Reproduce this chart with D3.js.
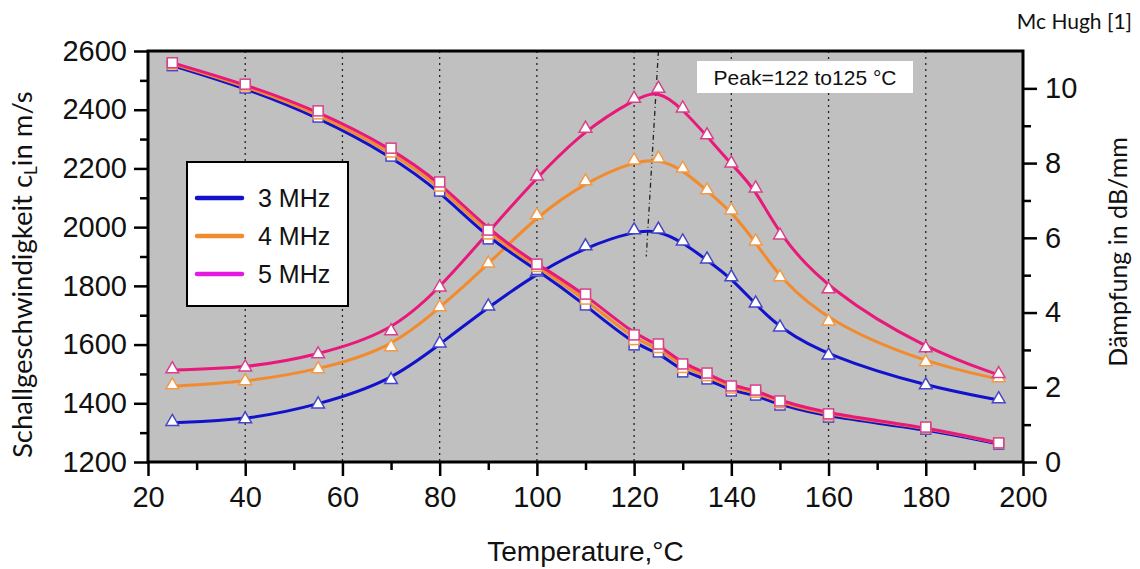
<!DOCTYPE html>
<html>
<head>
<meta charset="utf-8">
<title>Schallgeschwindigkeit und Dämpfung</title>
<script src="https://cdnjs.cloudflare.com/ajax/libs/d3/7.8.5/d3.min.js"></script>
<style>
  body { margin: 0; background: #fff; overflow: hidden; }
  svg { display: block; overflow: visible; }
</style>
</head>
<body>
<div id="chart"></div>
<script>
// data
var temps  = [25, 40, 55, 70, 80, 90, 100, 110, 120, 125, 130, 135, 140, 145, 150, 160, 180, 195];
var speed3 = [2550, 2474, 2375, 2242, 2123, 1960, 1856, 1735, 1599, 1575, 1507, 1483, 1442, 1428, 1394, 1353, 1312, 1261];
var speed4 = [2556, 2481, 2386, 2256, 2140, 1977, 1866, 1755, 1617, 1590, 1522, 1494, 1452, 1438, 1402, 1360, 1317, 1264];
var speed5 = [2560, 2487, 2396, 2269, 2154, 1990, 1874, 1772, 1633, 1602, 1534, 1503, 1459, 1445, 1408, 1364, 1319, 1265];
var damp3  = [1.05, 1.12, 1.52, 2.17, 3.15, 4.14, 5.05, 5.75, 6.18, 6.20, 5.88, 5.40, 4.92, 4.22, 3.58, 2.83, 2.03, 1.66];
var damp4  = [2.03, 2.14, 2.46, 3.05, 4.12, 5.29, 6.58, 7.49, 8.05, 8.10, 7.83, 7.25, 6.71, 5.88, 4.92, 3.74, 2.65, 2.22];
var damp5  = [2.46, 2.51, 2.86, 3.48, 4.65, 6.15, 7.62, 8.90, 9.70, 9.97, 9.44, 8.72, 7.97, 7.30, 6.04, 4.60, 3.02, 2.33];
var seriesNames = ["3 MHz", "4 MHz", "5 MHz"];
var xTicks = [20, 40, 60, 80, 100, 120, 140, 160, 180, 200];
var xMinor = [30, 50, 70, 90, 110, 130, 150, 170, 190];
var gridTemps = [40, 60, 80, 100, 120, 140, 160, 180];
var yLeftTicks = [1200, 1400, 1600, 1800, 2000, 2200, 2400, 2600];
var yLeftMinor = [1300, 1500, 1700, 1900, 2100, 2300, 2500];
var yRightTicks = [0, 2, 4, 6, 8, 10];
var yRightMinor = [1, 3, 5, 7, 9];
var peakLine = [{t: 125, d: 11}, {t: 122.5, d: 5.5}];

var lineColors   = ["#1212cc", "#f28a2e", "#e8197a"];
var legendColors = ["#1212cc", "#f28a2e", "#e619e0"];
var markColors   = ["#4646c8", "#f09a4a", "#d8408c"];
var fontArial = "Liberation Sans, Arial, sans-serif";

var width = 1140, height = 569;
var margin = { left: 148, top: 51, right: 117, bottom: 107 };
var innerWidth  = width - margin.left - margin.right;
var innerHeight = height - margin.top - margin.bottom;

var x = d3.scaleLinear().domain([20, 200]).range([0, innerWidth]);
var yL = d3.scaleLinear().domain([1200, 2600]).range([innerHeight, 0]);
var yR = d3.scaleLinear().domain([0, 11]).range([innerHeight, 0]);

var svg = d3.select("#chart").append("svg")
    .attr("width", width)
    .attr("height", height);

var g = svg.append("g")
    .attr("transform", "translate(" + margin.left + "," + margin.top + ")");

g.append("rect")
    .attr("width", innerWidth)
    .attr("height", innerHeight)
    .attr("fill", "#c0c0c0");

// dotted grid
g.selectAll(".grid")
    .data(gridTemps)
  .enter().append("line")
    .attr("x1", function(d){ return x(d); })
    .attr("x2", function(d){ return x(d); })
    .attr("y1", 0)
    .attr("y2", innerHeight)
    .attr("stroke", "#222")
    .attr("stroke-width", 1.3)
    .attr("stroke-dasharray", "2,4");

g.append("line")
    .attr("x1", x(peakLine[0].t)).attr("y1", yR(peakLine[0].d))
    .attr("x2", x(peakLine[1].t)).attr("y2", yR(peakLine[1].d))
    .attr("stroke", "#222")
    .attr("stroke-width", 1.3)
    .attr("stroke-dasharray", "5,3,1,3");

function pts(vals) {
  return temps.map(function(t, i){ return { t: t, v: vals[i] }; });
}

var speeds = [speed3, speed4, speed5];
var damps = [damp3, damp4, damp5];

var lineL = d3.line().curve(d3.curveBasis)
    .x(function(d){ return x(d.t); })
    .y(function(d){ return yL(d.v); });
var lineR = d3.line().curve(d3.curveBasis)
    .x(function(d){ return x(d.t); })
    .y(function(d){ return yR(d.v); });

var tri = d3.symbol().type(d3.symbolTriangle).size(70);

damps.forEach(function(vals, i) {
  g.append("path")
      .attr("d", lineR(pts(vals)))
      .attr("fill", "none")
      .attr("stroke", lineColors[i])
      .attr("stroke-width", 3);
});
speeds.forEach(function(vals, i) {
  g.append("path")
      .attr("d", lineL(pts(vals)))
      .attr("fill", "none")
      .attr("stroke", lineColors[i])
      .attr("stroke-width", 3);
});

damps.forEach(function(vals, i) {
  g.selectAll(".tri" + i)
      .data(pts(vals))
    .enter().append("path")
      .attr("d", tri)
      .attr("transform", function(d){ return "translate(" + x(d.t) + "," + (yR(d.v) - 1) + ")"; })
      .attr("fill", "#fff")
      .attr("stroke", markColors[i])
      .attr("stroke-width", 1.5);
});
speeds.forEach(function(vals, i) {
  g.selectAll(".sq" + i)
      .data(pts(vals))
    .enter().append("rect")
      .attr("x", function(d){ return x(d.t) - 5; })
      .attr("y", function(d){ return yL(d.v) - 5; })
      .attr("width", 10)
      .attr("height", 10)
      .attr("fill", "#fff")
      .attr("stroke", markColors[i])
      .attr("stroke-width", 1.5);
});

// axes
function styleAxis(sel) {
  sel.attr("font-family", fontArial).attr("font-size", 29);
  sel.select(".domain").remove();
  sel.selectAll(".tick line").attr("stroke", "#000").attr("stroke-width", 2.5);
  sel.selectAll(".tick text")
      .attr("fill", "#111")
      .attr("font-family", fontArial)
      .attr("font-size", 29);
}
function minorAxis(sel) {
  styleAxis(sel);
  sel.selectAll(".tick text").remove();
}

g.append("g")
    .attr("transform", "translate(0," + innerHeight + ")")
    .call(d3.axisBottom(x).tickValues(xMinor).tickSize(8))
    .call(minorAxis);
g.append("g")
    .attr("transform", "translate(0," + innerHeight + ")")
    .call(d3.axisBottom(x).tickValues(xTicks).tickSize(14).tickPadding(10))
    .call(styleAxis);

g.append("g")
    .call(d3.axisLeft(yL).tickValues(yLeftMinor).tickSize(8))
    .call(minorAxis);
g.append("g")
    .call(d3.axisLeft(yL).tickValues(yLeftTicks).tickSize(14).tickPadding(7).tickFormat(d3.format("d")))
    .call(styleAxis);

g.append("g")
    .attr("transform", "translate(" + innerWidth + ",0)")
    .call(d3.axisRight(yR).tickValues(yRightMinor).tickSize(8))
    .call(minorAxis);
g.append("g")
    .attr("transform", "translate(" + innerWidth + ",0)")
    .call(d3.axisRight(yR).tickValues(yRightTicks).tickSize(14).tickPadding(8))
    .call(styleAxis);

g.append("rect")
    .attr("width", innerWidth)
    .attr("height", innerHeight)
    .attr("fill", "none")
    .attr("stroke", "#000")
    .attr("stroke-width", 3);

// legend
var legend = g.append("g").attr("transform", "translate(39,111)");
legend.append("rect")
    .attr("width", 161)
    .attr("height", 144)
    .attr("fill", "#fff")
    .attr("stroke", "#000")
    .attr("stroke-width", 2);
seriesNames.forEach(function(name, i) {
  var ly = 36 + i * 38;
  legend.append("line")
      .attr("x1", 10).attr("x2", 55)
      .attr("y1", ly).attr("y2", ly)
      .attr("stroke", legendColors[i])
      .attr("stroke-width", 4.5)
      .attr("stroke-linecap", "round");
  legend.append("text")
      .attr("x", 71)
      .attr("y", ly + 9)
      .attr("font-family", fontArial)
      .attr("font-size", 25)
      .attr("fill", "#111")
      .text(name);
});

// peak note
g.append("rect")
    .attr("x", 549).attr("y", 10)
    .attr("width", 216).attr("height", 32)
    .attr("fill", "#fff");
g.append("text")
    .attr("x", 657).attr("y", 34)
    .attr("text-anchor", "middle")
    .attr("font-family", fontArial)
    .attr("font-size", 21)
    .attr("fill", "#111")
    .text("Peak=122 to125 °C");

// titles
svg.append("text")
    .attr("x", margin.left + innerWidth / 2)
    .attr("y", 561)
    .attr("text-anchor", "middle")
    .attr("font-family", fontArial)
    .attr("font-size", 28)
    .attr("fill", "#111")
    .text("Temperature,°C");

var lt = svg.append("text")
    .attr("transform", "translate(32,0) rotate(-90)")
    .attr("x", -458)
    .attr("font-family", "Lato, sans-serif")
    .attr("font-size", 27.5)
    .attr("fill", "#111");
lt.append("tspan").text("Schallgeschwindigkeit  c");
lt.append("tspan").attr("font-size", 17).attr("dy", 5).text("L");
lt.append("tspan").attr("dy", -5).text("in m/s");

svg.append("text")
    .attr("transform", "translate(1127,252) rotate(-90)")
    .attr("text-anchor", "middle")
    .attr("font-family", "Lato, sans-serif")
    .attr("font-size", 25)
    .attr("fill", "#111")
    .text("Dämpfung in dB/mm");

svg.append("text")
    .attr("x", 1132)
    .attr("y", 29)
    .attr("text-anchor", "end")
    .attr("font-family", "Lato, sans-serif")
    .attr("font-size", 21)
    .attr("fill", "#111")
    .text("Mc Hugh  [1]");
</script>
</body>
</html>
